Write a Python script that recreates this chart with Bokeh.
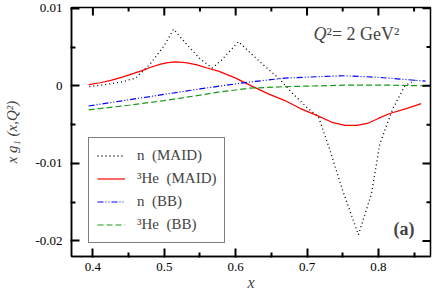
from bokeh.plotting import figure
from bokeh.models import (Range1d, FixedTicker, Legend, LegendItem, Label)
from bokeh.embed import file_html
from bokeh.resources import INLINE

# n (MAID)
n_maid_x = [0.395, 0.42, 0.44, 0.46, 0.48, 0.50, 0.513, 0.53, 0.55, 0.567, 0.58, 0.604,
            0.62, 0.64, 0.66, 0.68, 0.70, 0.716, 0.73, 0.75, 0.772, 0.79, 0.802, 0.82, 0.837, 0.855]
n_maid_y = [-0.0001, 0.0002, 0.0005, 0.0010, 0.0028, 0.0052, 0.0073, 0.0055, 0.0035, 0.0023, 0.0033, 0.0057,
            0.0043, 0.0026, 0.0010, -0.0010, -0.0028, -0.0040, -0.0077, -0.0135, -0.0192, -0.0140, -0.0075, -0.0030, 0.0000, 0.0009]

# 3He (MAID)
he_maid_x = [0.394, 0.41, 0.425, 0.44, 0.457, 0.47, 0.481, 0.495, 0.505, 0.516, 0.53, 0.546, 0.56, 0.576,
             0.60, 0.622, 0.645, 0.669, 0.69, 0.716, 0.735, 0.753, 0.77, 0.786, 0.80, 0.815, 0.84, 0.86]
he_maid_y = [0.00016, 0.0004, 0.0007, 0.0011, 0.0016, 0.0020, 0.0024, 0.0028, 0.0030, 0.0031, 0.0030, 0.0027,
             0.0023, 0.0019, 0.0010, 0.0000, -0.0010, -0.0019, -0.0029, -0.0039, -0.0047, -0.0051, -0.0051,
             -0.0048, -0.0042, -0.0036, -0.0029, -0.0023]

# n (BB)
n_bb_x = [0.394, 0.45, 0.50, 0.55, 0.58, 0.62, 0.67, 0.72, 0.753, 0.80, 0.84, 0.866]
n_bb_y = [-0.0026, -0.0018, -0.0011, -0.0004, 0.0000, 0.0005, 0.0010, 0.0012, 0.0013, 0.0011, 0.0008, 0.0006]

# 3He (BB)
he_bb_x = [0.394, 0.45, 0.50, 0.55, 0.576, 0.62, 0.67, 0.716, 0.76, 0.809, 0.866]
he_bb_y = [-0.0031, -0.0025, -0.0019, -0.0012, -0.0008, -0.0003, -0.0001, 0.0000, 0.0001, 0.0001, 0.0000]

x_ticks = [0.4, 0.5, 0.6, 0.7, 0.8]
x_minor = [0.45, 0.55, 0.65, 0.75, 0.85]
y_ticks = [-0.02, -0.01, 0, 0.01]
y_labels = ["-0.02", "-0.01", "0", "0.01"]
y_minor = [-0.015, -0.005, 0.005]

x_start, x_end = 0.37, 0.873
y_start, y_end = -0.022, 0.0101

SERIF = "Liberation Serif"
W, H = 436, 294
BL, BR, BT, BB = 71, 6, 7, 38

p = figure(width=W, height=H, output_backend="svg", toolbar_location=None,
           x_range=Range1d(x_start, x_end), y_range=Range1d(y_start, y_end),
           x_axis_label="x", y_axis_label="x g₁ (x,Q²)",
           min_border_left=BL, min_border_right=BR, min_border_top=BT, min_border_bottom=BB)
p.grid.visible = False
p.outline_line_color = "black"
p.outline_line_width = 1.5

r1 = p.line(n_maid_x, n_maid_y, line_color="black", line_dash="1 3", line_width=1.3)
r2 = p.line(he_maid_x, he_maid_y, line_color="red", line_width=1.2)
r3 = p.line(n_bb_x, n_bb_y, line_color="blue", line_dash="6 2 1 2 1 2", line_width=1.2)
r4 = p.line(he_bb_x, he_bb_y, line_color="#1a9a1a", line_dash="6 3", line_width=1.2)

# inward ticks on the top and right edges, lengths converted from pixels to data units
dx = (x_end - x_start) / (W - BL - BR)
dy = (y_end - y_start) / (H - BT - BB)
MAJ, MIN = 8, 4
TW = 2
for ticks, ln in ((x_ticks, MAJ), (x_minor, MIN)):
    p.segment(x0=ticks, x1=ticks, y0=[y_end] * len(ticks), y1=[y_end - ln * dy] * len(ticks),
              line_color="black", line_width=TW)
for ticks, ln in ((y_ticks, MAJ), (y_minor, MIN)):
    p.segment(x0=[x_end] * len(ticks), x1=[x_end - ln * dx] * len(ticks), y0=ticks, y1=ticks,
              line_color="black", line_width=TW)

def style_axis(ax, ticks, minor):
    ax.ticker = FixedTicker(ticks=ticks, minor_ticks=minor)
    ax.axis_line_color = "black"
    ax.axis_line_width = 1.5
    ax.major_tick_in = MAJ
    ax.major_tick_out = 1
    ax.minor_tick_in = MIN
    ax.minor_tick_out = 1
    ax.major_tick_line_color = "black"
    ax.minor_tick_line_color = "black"
    ax.major_tick_line_width = TW
    ax.minor_tick_line_width = TW
    ax.major_label_text_font = SERIF
    ax.major_label_text_font_size = "13px"
    ax.major_label_text_color = "black"

xa = p.xaxis[0]
style_axis(xa, x_ticks, x_minor)
xa.major_label_overrides = {t: str(t) for t in x_ticks}
xa.major_label_standoff = 5
xa.axis_label_text_font = SERIF
xa.axis_label_text_font_style = "italic"
xa.axis_label_text_font_size = "16px"
xa.axis_label_standoff = 0

ya = p.yaxis[0]
style_axis(ya, y_ticks, y_minor)
ya.major_label_overrides = {t: l for t, l in zip(y_ticks, y_labels)}
ya.major_label_standoff = 8
ya.axis_label_text_font = SERIF
ya.axis_label_text_font_style = "italic"
ya.axis_label_text_font_size = "15px"
ya.axis_label_standoff = 12

legend = Legend(items=[LegendItem(label="n  (MAID)", renderers=[r1]),
                       LegendItem(label="³He  (MAID)", renderers=[r2]),
                       LegendItem(label="n  (BB)", renderers=[r3]),
                       LegendItem(label="³He  (BB)", renderers=[r4])],
                location=(17, 13))
legend.border_line_color = "black"
legend.border_line_width = 1.3
legend.background_fill_alpha = 1
legend.label_text_font = SERIF
legend.label_text_font_size = "15px"
legend.glyph_width = 28
legend.glyph_height = 19
legend.label_height = 19
legend.spacing = 4
legend.padding = 8
legend.margin = 0
legend.label_standoff = 12
p.add_layout(legend, "center")

q_lbl = Label(x=x_end, y=y_end, x_offset=-117, y_offset=-36, text="Q", text_font=SERIF,
              text_font_style="italic", text_font_size="18px")
q_lbl2 = Label(x=x_end, y=y_end, x_offset=-104, y_offset=-36, text="²= 2 GeV²", text_font=SERIF,
               text_font_size="18px")
a_lbl = Label(x=x_end, y=y_start, x_offset=-37, y_offset=18, text="(a)", text_font=SERIF,
              text_font_style="bold", text_font_size="18px")
p.add_layout(q_lbl)
p.add_layout(q_lbl2)
p.add_layout(a_lbl)

open("out.html", "w").write(file_html(p, INLINE))
